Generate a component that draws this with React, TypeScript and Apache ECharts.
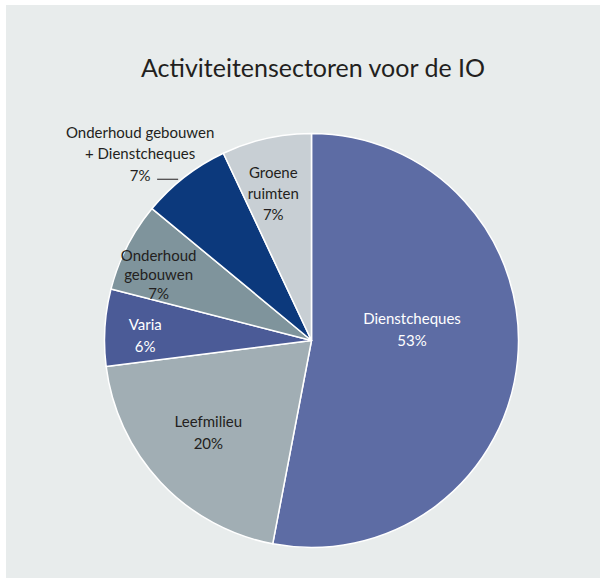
import React, { useEffect, useRef } from "react";
import * as echarts from "echarts";

const title = "Activiteitensectoren voor de IO";
const categories = [
  "Dienstcheques",
  "Leefmilieu",
  "Varia",
  "Onderhoud\ngebouwen",
  "Onderhoud gebouwen\n+ Dienstcheques",
  "Groene\nruimten",
];
const values = [53, 20, 6, 7, 7, 7];
const colors = ["#5d6ca4", "#a1aeb4", "#4b5b97", "#7f949c", "#0c397c", "#c8cfd4"];
const labelColors = ["#ffffff", "#231f20", "#ffffff", "#231f20", "#231f20", "#231f20"];
const lineHeights = [22, 22, 22, 19, 21.5, 21];
// label nudges relative to the default inside position
const labelNudges = [
  [-5.5, -22],
  [-25.5, 18.7],
  [-60, 1],
  [-58, -18],
  [0, 0],
  [-15, -43.5],
];
const OUTSIDE_INDEX = 4;

export default function App() {
  const ref = useRef<HTMLDivElement>(null);
  useEffect(() => {
    if (!ref.current) return;
    const chart = echarts.init(ref.current, null, { renderer: "svg" });
    const font = "Lato, 'Noto Sans', sans-serif";
    chart.setOption({
      animation: false,
      backgroundColor: "#e8ecec",
      title: {
        text: title,
        left: 135,
        top: 44,
        padding: [5, 0, 5, 0],
        textStyle: {
          fontFamily: font,
          fontSize: 25,
          fontWeight: "normal",
          color: "#231f20",
        },
      },
      series: [
        {
          type: "pie",
          center: [305.5, 335.5],
          radius: 207,
          startAngle: 90,
          clockwise: true,
          avoidLabelOverlap: false,
          itemStyle: { borderColor: "#ffffff", borderWidth: 1.5 },
          label: {
            show: true,
            position: "inside",
            formatter: "{b}\n{c}%",
            fontFamily: font,
            fontSize: 15,
            align: "center",
          },
          labelLine: { show: false },
          labelLayout: (params: any) => {
            const i = params.dataIndex;
            if (i === OUTSIDE_INDEX) {
              const p = params.labelLinePoints;
              if (!p || !p[0]) return {};
              const [x0, y0] = p[0];
              return {
                x: x0 - 44.5,
                y: y0 - 23.6,
                align: "center",
                verticalAlign: "middle",
                labelLinePoints: [
                  [x0 - 6.5, y0 + 2.3],
                  [x0 - 27.5, y0 + 2.3],
                ],
              };
            }
            return { dx: labelNudges[i][0], dy: labelNudges[i][1] };
          },
          data: categories.map((name, i) => ({
            name,
            value: values[i],
            itemStyle: { color: colors[i] },
            label:
              i === OUTSIDE_INDEX
                ? {
                    position: "outside",
                    color: labelColors[i],
                    lineHeight: lineHeights[i],
                    align: "center",
                  }
                : { color: labelColors[i], lineHeight: lineHeights[i] },
            labelLine:
              i === OUTSIDE_INDEX
                ? { show: true, length: 3, length2: 20, lineStyle: { color: "#231f20", width: 1 } }
                : { show: false },
          })),
        },
      ],
    });
    return () => chart.dispose();
  }, []);
  return (
    <div
      style={{
        position: "absolute",
        left: 0,
        top: 0,
        width: 600,
        height: 578,
        background: "#ffffff",
      }}
    >
      <div
        ref={ref}
        style={{ position: "absolute", left: 6, top: 5, width: 594, height: 573 }}
      />
    </div>
  );
}
